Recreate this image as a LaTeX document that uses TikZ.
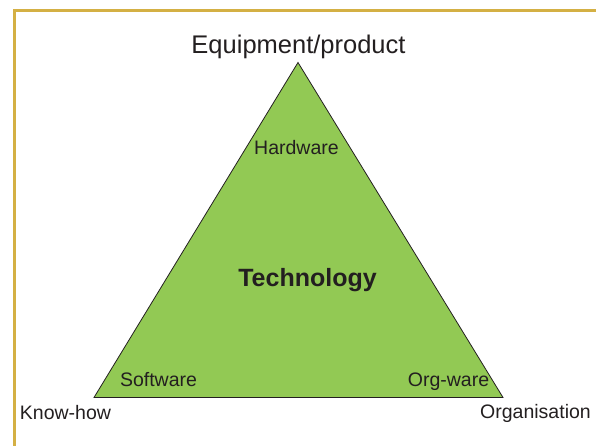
\documentclass[tikz,border=0pt]{standalone}
\usepackage{fontspec}
\setmainfont{Liberation Sans}
\definecolor{gold}{HTML}{D4B044}
\definecolor{leaf}{HTML}{92C954}
\definecolor{ink}{HTML}{231F20}
\begin{document}
\begin{tikzpicture}[x=1pt,y=1pt,
  small/.style={inner sep=0pt,anchor=base,text=ink,font=\fontsize{19.5}{22}\selectfont},
  big/.style={inner sep=0pt,anchor=base,text=ink,font=\fontsize{25.5}{28}\selectfont},
  bigbold/.style={inner sep=0pt,anchor=base,text=ink,font=\fontsize{25}{28}\selectfont\bfseries}]
\useasboundingbox (0,0) rectangle (596,446);
\fill[white] (0,0) rectangle (596,446);
% frame
\coordinate (fl) at (14.3,0);
\coordinate (fc) at (14.3,435.5);
\coordinate (fr) at (596,435.5);
\draw[gold,line width=2.6pt] (fl) -- (fc) -- (fr);
% triangle
\coordinate (top) at (298,383.5);
\coordinate (bl) at (94,48.5);
\coordinate (br) at (503,48.5);
\draw[ink,fill=leaf,line width=0.8pt,line join=miter] (top) -- (bl) -- (br) -- cycle;
% labels
\node[big] (equip) at (298.5,392) {Equipment/product};
\node[small] (hard) at (296.5,291) {Hardware};
\node[bigbold] (tech) at (307.5,159) {Technology};
\node[small] (soft) at (158.5,59) {Software};
\node[small] (org) at (448.5,59) {Org-ware};
\node[small] (know) at (65.5,26.5) {Know-how};
\node[small] (organ) at (535.5,27) {Organisation};
\end{tikzpicture}
\end{document}
